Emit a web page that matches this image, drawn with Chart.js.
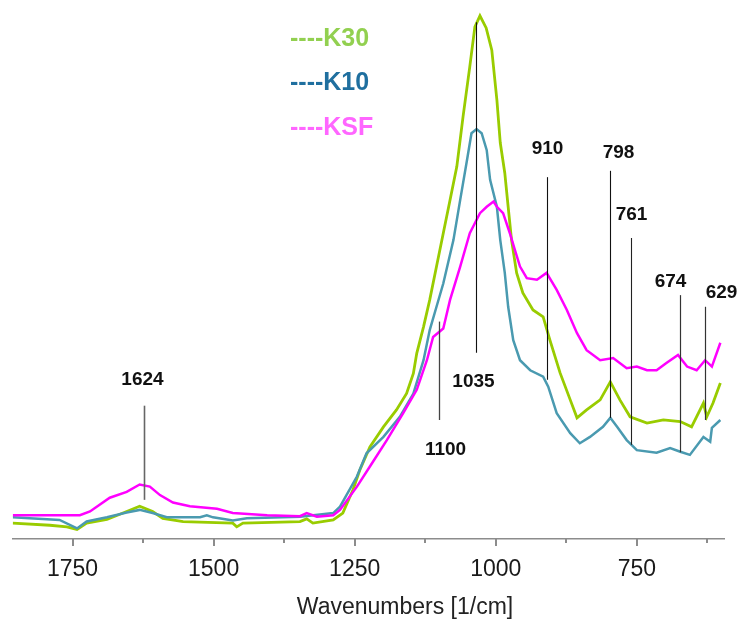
<!DOCTYPE html>
<html>
<head>
<meta charset="utf-8">
<script src="https://cdn.jsdelivr.net/npm/chart.js@4.4.1/dist/chart.umd.min.js"></script>
<style>
  html, body { margin: 0; padding: 0; background: #ffffff; }
  #wrap { width: 741px; height: 632px; position: relative; }
</style>
</head>
<body>
<div id="wrap"><canvas id="spectra" width="741" height="632"></canvas></div>
<script>
// FTIR spectra of three montmorillonite clays (absorbance, arbitrary units)
const k30Wavenumbers = [1856, 1790, 1760, 1742, 1725, 1689, 1654, 1631, 1608, 1590, 1554, 1466, 1459, 1448, 1347, 1335, 1324, 1288, 1271, 1253, 1241, 1223, 1199, 1176, 1158, 1146, 1140, 1128, 1117, 1105, 1093, 1081, 1069, 1058, 1046, 1037, 1028, 1017, 1007, 998, 992, 984, 978, 972, 963, 952, 934, 916, 904, 886, 868, 856, 839, 815, 797, 780, 762, 732, 703, 673, 653, 632, 626, 615, 602];
const k30Absorbance = [0.030, 0.026, 0.023, 0.018, 0.030, 0.037, 0.052, 0.062, 0.052, 0.039, 0.033, 0.030, 0.023, 0.030, 0.033, 0.038, 0.030, 0.036, 0.049, 0.093, 0.130, 0.174, 0.212, 0.244, 0.275, 0.313, 0.351, 0.401, 0.452, 0.515, 0.578, 0.641, 0.704, 0.798, 0.893, 0.968, 0.989, 0.966, 0.924, 0.830, 0.749, 0.692, 0.628, 0.565, 0.503, 0.465, 0.433, 0.420, 0.376, 0.314, 0.263, 0.229, 0.244, 0.263, 0.297, 0.263, 0.231, 0.219, 0.225, 0.222, 0.212, 0.257, 0.231, 0.257, 0.295];

const k10Wavenumbers = [1856, 1773, 1742, 1725, 1689, 1654, 1631, 1608, 1583, 1524, 1512, 1501, 1466, 1441, 1347, 1288, 1276, 1246, 1229, 1199, 1170, 1146, 1128, 1117, 1105, 1093, 1075, 1063, 1051, 1043, 1034, 1025, 1016, 1010, 998, 992, 984, 978, 969, 957, 939, 916, 907, 892, 868, 851, 833, 810, 797, 785, 768, 750, 715, 691, 673, 656, 632, 620, 617, 602];
const k10Absorbance = [0.041, 0.036, 0.020, 0.033, 0.041, 0.050, 0.055, 0.049, 0.041, 0.041, 0.045, 0.041, 0.035, 0.039, 0.042, 0.049, 0.061, 0.118, 0.162, 0.193, 0.231, 0.275, 0.338, 0.395, 0.439, 0.483, 0.565, 0.641, 0.716, 0.767, 0.775, 0.767, 0.735, 0.679, 0.628, 0.565, 0.503, 0.439, 0.376, 0.338, 0.319, 0.307, 0.288, 0.238, 0.200, 0.181, 0.193, 0.212, 0.229, 0.212, 0.187, 0.168, 0.163, 0.172, 0.165, 0.159, 0.193, 0.184, 0.210, 0.225];

const ksfWavenumbers = [1856, 1737, 1719, 1684, 1654, 1631, 1613, 1595, 1572, 1542, 1494, 1466, 1405, 1347, 1335, 1317, 1288, 1276, 1246, 1223, 1193, 1164, 1140, 1122, 1111, 1093, 1081, 1063, 1046, 1028, 1016, 1004, 998, 987, 975, 966, 957, 945, 927, 910, 892, 874, 856, 839, 815, 792, 768, 750, 732, 715, 697, 677, 661, 644, 629, 617, 602];
const ksfAbsorbance = [0.045, 0.045, 0.052, 0.078, 0.089, 0.103, 0.099, 0.083, 0.069, 0.062, 0.057, 0.049, 0.045, 0.043, 0.049, 0.042, 0.045, 0.055, 0.099, 0.137, 0.187, 0.238, 0.282, 0.338, 0.382, 0.398, 0.452, 0.515, 0.578, 0.616, 0.628, 0.638, 0.628, 0.616, 0.578, 0.546, 0.515, 0.493, 0.490, 0.503, 0.471, 0.433, 0.389, 0.357, 0.338, 0.342, 0.323, 0.326, 0.319, 0.319, 0.333, 0.348, 0.326, 0.319, 0.338, 0.326, 0.371];

const seriesNames = ['K30', 'K10', 'KSF'];

// x-axis ticks (reversed wavenumber axis)
const majorTicks = [1750, 1500, 1250, 1000, 750];
const minorTicks = [1625, 1375, 1125, 875, 625];

// assigned band positions (cm-1)
const peakWavenumbers = [1624, 1100, 1035, 910, 798, 761, 674, 629];

// marker geometry for each band: line span and label height in absorbance units, label nudge in px
const peakMarks = [
  { top: 0.252, bottom: 0.074, labelAt: 0.301, dx: -2, color: '#666666', width: 1.6 },
  { top: 0.411, bottom: 0.225, labelAt: 0.168, dx: 6,  color: '#444444', width: 1.3 },
  { top: 0.977, bottom: 0.352, labelAt: 0.297, dx: -3, color: '#111111', width: 1.1 },
  { top: 0.684, bottom: 0.301, labelAt: 0.737, dx: 0,  color: '#111111', width: 1.1 },
  { top: 0.696, bottom: 0.229, labelAt: 0.730, dx: 8,  color: '#111111', width: 1.1 },
  { top: 0.569, bottom: 0.178, labelAt: 0.612, dx: 0,  color: '#222222', width: 1.1 },
  { top: 0.461, bottom: 0.164, labelAt: 0.486, dx: -10, color: '#333333', width: 1.2 },
  { top: 0.439, bottom: 0.225, labelAt: 0.465, dx: 16, color: '#333333', width: 1.2 }
];

const lineColors = ['#99cc00', '#4a9ab0', '#ff00ff'];
const legendColors = ['#92d050', '#1f6f9f', '#ff66ff'];

const toPoints = (xs, ys) => xs.map((x, i) => ({ x: x, y: ys[i] }));

const FONT = '"Liberation Sans", Arial, sans-serif';

const overlay = {
  id: 'overlay',
  afterDatasetsDraw(chart) {
    const ctx = chart.ctx;
    const xs = chart.scales.x, ys = chart.scales.y;
    ctx.save();
    peakWavenumbers.forEach((wn, i) => {
      const m = peakMarks[i];
      const x = Math.round(xs.getPixelForValue(wn)) + 0.5;
      ctx.strokeStyle = m.color;
      ctx.lineWidth = m.width;
      ctx.beginPath();
      ctx.moveTo(x, ys.getPixelForValue(m.top));
      ctx.lineTo(x, ys.getPixelForValue(m.bottom));
      ctx.stroke();
      ctx.font = 'bold 19px ' + FONT;
      ctx.fillStyle = '#111111';
      ctx.textAlign = 'center';
      ctx.textBaseline = 'middle';
      ctx.fillText(String(wn), x + m.dx, ys.getPixelForValue(m.labelAt));
    });
    ctx.restore();
  },
  afterDraw(chart) {
    const ctx = chart.ctx;
    const xs = chart.scales.x;
    const axisY = chart.chartArea.bottom;
    ctx.save();
    // tick marks below the axis line
    ctx.strokeStyle = '#8c8c8c';
    ctx.lineWidth = 2;
    const mark = (v, len) => {
      const x = Math.round(xs.getPixelForValue(v));
      ctx.beginPath();
      ctx.moveTo(x, axisY);
      ctx.lineTo(x, axisY + len);
      ctx.stroke();
    };
    majorTicks.forEach(v => mark(v, 7));
    minorTicks.forEach(v => mark(v, 4));

    // axis title
    ctx.fillStyle = '#222222';
    ctx.font = '23px ' + FONT;
    ctx.textAlign = 'center';
    ctx.textBaseline = 'middle';
    ctx.fillText('Wavenumbers [1/cm]', 405, 608);

    // legend entries
    ctx.font = 'bold 25px ' + FONT;
    ctx.textAlign = 'left';
    const legendY = [39, 83, 128];
    seriesNames.forEach((name, i) => {
      ctx.fillStyle = legendColors[i];
      ctx.fillText('----' + name, 290, legendY[i]);
    });
    ctx.restore();
  }
};

new Chart(document.getElementById('spectra'), {
  type: 'line',
  data: {
    datasets: [
      { label: seriesNames[0], data: toPoints(k30Wavenumbers, k30Absorbance), borderColor: lineColors[0], borderWidth: 2.8, order: 3 },
      { label: seriesNames[1], data: toPoints(k10Wavenumbers, k10Absorbance), borderColor: lineColors[1], borderWidth: 2.5, order: 2 },
      { label: seriesNames[2], data: toPoints(ksfWavenumbers, ksfAbsorbance), borderColor: lineColors[2], borderWidth: 2.5, order: 1 }
    ]
  },
  options: {
    responsive: false,
    animation: false,
    elements: { point: { radius: 0 }, line: { tension: 0, fill: false } },
    layout: { padding: { left: 12.7, right: 16.7, top: 10, bottom: 0 } },
    plugins: { legend: { display: false }, tooltip: { enabled: false } },
    scales: {
      x: {
        type: 'linear',
        reverse: true,
        min: 595,
        max: 1856,
        afterBuildTicks: s => { s.ticks = majorTicks.map(v => ({ value: v })); },
        afterFit: s => { s.height = 93; },
        ticks: {
          autoSkip: false,
          maxRotation: 0,
          padding: 17,
          color: '#1a1a1a',
          font: { family: FONT, size: 23 },
          callback: v => String(v)
        },
        grid: { display: false, drawTicks: false },
        border: { display: true, color: '#8c8c8c', width: 1.5 }
      },
      y: {
        display: false,
        min: 0,
        max: 1
      }
    }
  },
  plugins: [overlay]
});
</script>
</body>
</html>
